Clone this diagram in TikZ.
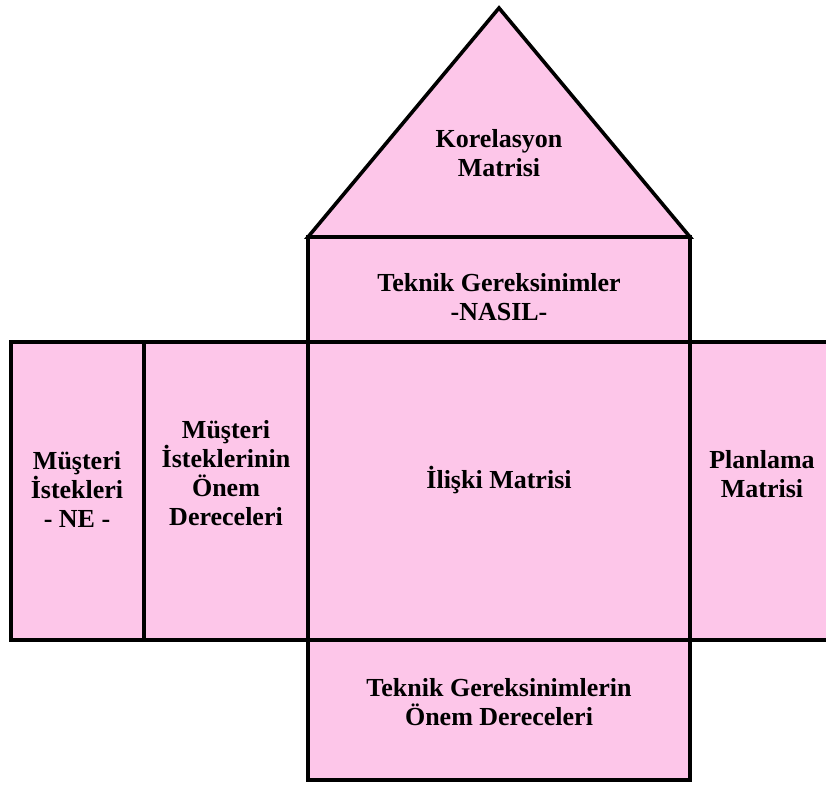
\documentclass[tikz,border=0pt]{standalone}
\usepackage{fontspec}
\setmainfont{Liberation Serif}
\definecolor{hqpink}{RGB}{253,198,233}
\begin{document}
\begin{tikzpicture}[x=1pt,y=-1pt,
  part/.style={draw=black,fill=hqpink,line width=3.6pt,line join=miter},
  lbl/.style={align=center,inner sep=0pt,
    font=\fontsize{26}{29}\selectfont\bfseries}]
  \useasboundingbox (0,0) rectangle (826,785);
  \clip (0,0) rectangle (826,785);

  % roof: correlation matrix
  \draw[part] (308,237) -- (499,8) -- (690,237) -- cycle;
  % technical requirements
  \draw[part] (308,237) rectangle (690,342);
  % left wing
  \draw[part] (11,342) rectangle (144,640);
  \draw[part] (144,342) rectangle (308,640);
  % relationship matrix
  \draw[part] (308,342) rectangle (690,640);
  % planning matrix (runs off the right edge)
  \draw[part] (690,342) rectangle (850,640);
  % basement
  \draw[part] (308,640) rectangle (690,780);

  \node[lbl] (kor) at (499,153) {Korelasyon\\Matrisi};
  \node[lbl] (tek) at (499,297) {Teknik Gereksinimler\\-NASIL-};
  \node[lbl] (mus) at (77,489) {Müşteri\\İstekleri\\- NE -};
  \node[lbl] (onem) at (226,473) {Müşteri\\İsteklerinin\\Önem\\Dereceleri};
  \node[lbl] (ili) at (499,480) {İlişki Matrisi};
  \node[lbl] (plan) at (762,474) {Planlama\\Matrisi};
  \node[lbl] (tgo) at (499,702) {Teknik Gereksinimlerin\\Önem Dereceleri};
\end{tikzpicture}
\end{document}
